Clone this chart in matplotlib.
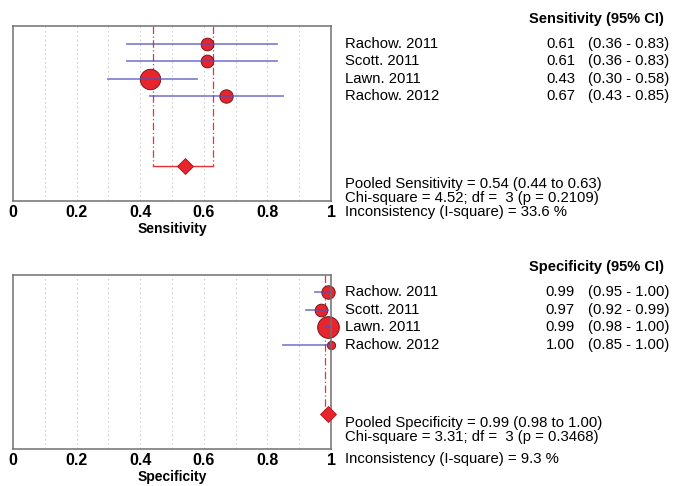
import matplotlib
matplotlib.use("Agg")
import matplotlib.pyplot as plt
from matplotlib.transforms import blended_transform_factory

plt.rcParams['font.family'] = ['Liberation Sans', 'DejaVu Sans']

studies = ["Rachow. 2011", "Scott. 2011", "Lawn. 2011", "Rachow. 2012"]

sens = [0.61, 0.61, 0.43, 0.67]
sens_lo = [0.36, 0.36, 0.30, 0.43]
sens_hi = [0.83, 0.83, 0.58, 0.85]
sens_wt = [1.0, 1.0, 1.6, 1.05]
sens_pool = [0.54, 0.44, 0.63]
sens_stats = ["Pooled Sensitivity = 0.54 (0.44 to 0.63)",
              "Chi-square = 4.52; df =  3 (p = 0.2109)",
              "Inconsistency (I-square) = 33.6 %"]

spec = [0.99, 0.97, 0.99, 1.00]
spec_lo = [0.95, 0.92, 0.98, 0.85]
spec_hi = [1.00, 0.99, 1.00, 1.00]
spec_wt = [1.05, 1.0, 1.7, 0.65]
spec_pool = [0.99, 0.98, 1.00]
spec_stats = ["Pooled Specificity = 0.99 (0.98 to 1.00)",
              "Chi-square = 3.31; df =  3 (p = 0.3468)",
              "Inconsistency (I-square) = 9.3 %"]

W, H = 674, 486
fig = plt.figure(figsize=(W / 100, H / 100), dpi=100)


def px(x, y):
    return x / W, 1 - y / H


def panel(top, bottom, val, lo, hi, wt, pool, stats, name, head_y, stat_y):
    ax = fig.add_axes([13 / W, 1 - bottom / H, 318 / W, (bottom - top) / H])
    ax.set_xlim(0, 1)
    ax.set_ylim(10, 0)
    for g in [0.1, 0.2, 0.3, 0.4, 0.5, 0.6, 0.7, 0.8, 0.9]:
        ax.axvline(g, color="#d0d0d0", lw=0.8, ls=(0, (1.5, 2.5)), zorder=0)
    rows = list(range(1, len(val) + 1))
    prow = 8
    # pooled estimate
    ax.vlines([pool[1], pool[2]], 0, prow, color="#f03030", lw=0.9,
              ls=(0, (6, 2, 1, 2)), zorder=1)
    ax.plot([pool[1], pool[2]], [prow, prow], color="#f03030", lw=1.0, zorder=1)
    ax.plot(pool[0], prow, marker="D", ms=8.5, mfc="#e8242c", mec="#b01018",
            mew=0.6, zorder=3, clip_on=False)
    for r, v, l, h, w in zip(rows, val, lo, hi, wt):
        ax.plot(v, r, "o", ms=9.2 * w, mfc="#e8242c", mec="#601010", mew=0.6,
                zorder=2, clip_on=False)
        ax.plot([l, h], [r, r], color="#5050c0", lw=1.3, alpha=0.7, zorder=3)
    ax.set_yticks([])
    ax.set_xticks([0, 0.2, 0.4, 0.6, 0.8, 1])
    ax.set_xticklabels(["0", "0.2", "0.4", "0.6", "0.8", "1"],
                       fontsize=11.5, fontweight="bold")
    ax.tick_params(axis="x", length=0, pad=3)
    ax.set_xlabel(name, fontsize=10, fontweight="bold", labelpad=1)
    for s in ax.spines.values():
        s.set_color("#707070")
        s.set_linewidth(1.1)

    tr = blended_transform_factory(fig.transFigure, ax.transData)
    for r, st, v, l, h in zip(rows, studies, val, lo, hi):
        ax.text(345 / W, r, st, transform=tr, fontsize=10.7, va="center")
        ax.text(575 / W, r, "%.2f" % v, transform=tr, fontsize=10.7,
                va="center", ha="right")
        ax.text(588 / W, r, "(%.2f - %.2f)" % (l, h), transform=tr,
                fontsize=10.7, va="center")
    fig.text(*px(664, head_y), name + " (95% CI)", fontsize=10.5,
             fontweight="bold", ha="right", va="center")
    for y, s in zip(stat_y, stats):
        fig.text(*px(345, y), s, fontsize=10.7, va="center")
    return ax


panel(26, 201, sens, sens_lo, sens_hi, sens_wt, sens_pool, sens_stats,
      "Sensitivity", 19, [184, 198, 212])
panel(275, 449, spec, spec_lo, spec_hi, spec_wt, spec_pool, spec_stats,
      "Specificity", 267, [423, 437, 459])

fig.savefig("out.png", dpi=100)
